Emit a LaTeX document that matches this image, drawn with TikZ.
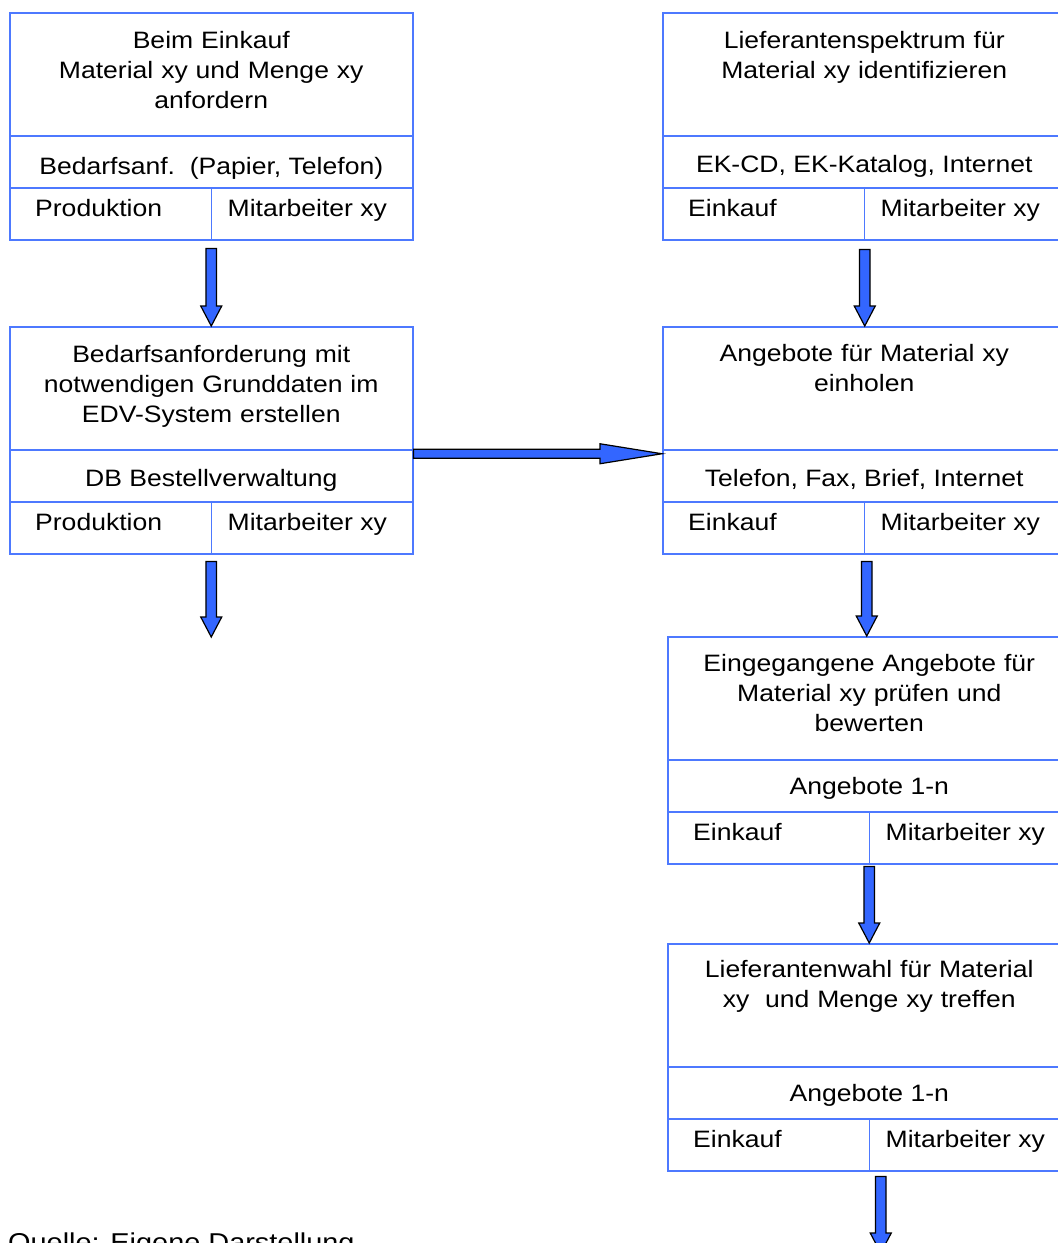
\documentclass[tikz,border=0pt]{standalone}
\usepackage{fontspec}
\setmainfont{Liberation Sans}[FakeStretch=1.12]
\usepackage{tikz}
\usetikzlibrary{calc}
\definecolor{boxLine}{RGB}{77,121,255}
\definecolor{arrFill}{RGB}{51,102,255}

\begin{document}
\begin{tikzpicture}[
  x=1pt, y=-1pt,
  font=\fontsize{23.7}{30}\selectfont,
  procbox/.style ={draw=boxLine, line width=1.5pt, minimum width=403pt, minimum height=227pt,
                   anchor=north west, inner sep=0pt},
  divline/.style ={draw=boxLine, line width=1.5pt},
  boxtitle/.style={anchor=base, text width=390pt, align=center, inner sep=0pt},
  restext/.style ={anchor=base, inner sep=0pt},
  orgtext/.style ={anchor=base west, inner sep=0pt},
  blockdown/.style ={fill=arrFill, draw=black, line width=1.2pt, line join=miter,
    to path={let \p1=(\tikztostart), \p2=(\tikztotarget) in
      (\x1-5.3pt,\y1) -- (\x1+5.3pt,\y1) -- (\x1+5.3pt,\y2+20pt) -- (\x1+10.5pt,\y2+20pt)
      -- (\x1,\y2) -- (\x1-10.5pt,\y2+20pt) -- (\x1-5.3pt,\y2+20pt) -- cycle}},
  blockright/.style={fill=arrFill, draw=black, line width=1.2pt, line join=miter,
    to path={let \p1=(\tikztostart), \p2=(\tikztotarget) in
      (\x1,\y1+4.5pt) -- (\x2-62pt,\y1+4.5pt) -- (\x2-62pt,\y1+10pt) -- (\x2,\y1)
      -- (\x2-62pt,\y1-10pt) -- (\x2-62pt,\y1-4.5pt) -- (\x1,\y1-4.5pt) -- cycle}},
]
\useasboundingbox (0,0) rectangle (1058,1243);
\clip (0,0) rectangle (1058,1243);

% ============ LEFT COLUMN ============
\node[procbox] (b1) at (9,12) {};
\draw[divline] ([yshift=-124pt]b1.north west) -- ([yshift=-124pt]b1.north east);
\draw[divline] ([yshift=-176pt]b1.north west) -- ([yshift=-176pt]b1.north east);
\draw[divline] ([yshift=-176pt]b1.north) -- (b1.south);
\node[boxtitle] (b1t) at ([yshift=-36pt]b1.north) {Beim Einkauf\\Material xy und Menge xy\\anfordern};
\node[restext]  (b1r) at ([yshift=-162pt]b1.north) {Bedarfsanf.\ \ (Papier, Telefon)};
\node[orgtext]  (b1o) at ([xshift=26pt,yshift=-204pt]b1.north west) {Produktion};
\node[orgtext]  (b1p) at ([xshift=218.5pt,yshift=-204pt]b1.north west) {Mitarbeiter xy};

\node[procbox] (b3) at (9,326) {};
\draw[divline] ([yshift=-124pt]b3.north west) -- ([yshift=-124pt]b3.north east);
\draw[divline] ([yshift=-176pt]b3.north west) -- ([yshift=-176pt]b3.north east);
\draw[divline] ([yshift=-176pt]b3.north) -- (b3.south);
\node[boxtitle] (b3t) at ([yshift=-36pt]b3.north) {Bedarfsanforderung mit\\notwendigen Grunddaten im\\EDV-System erstellen};
\node[restext]  (b3r) at ([yshift=-160pt]b3.north) {DB Bestellverwaltung};
\node[orgtext]  (b3o) at ([xshift=26pt,yshift=-204pt]b3.north west) {Produktion};
\node[orgtext]  (b3p) at ([xshift=218.5pt,yshift=-204pt]b3.north west) {Mitarbeiter xy};

% ============ RIGHT COLUMN ============
\node[procbox] (b2) at (662,12) {};
\draw[divline] ([yshift=-124pt]b2.north west) -- ([yshift=-124pt]b2.north east);
\draw[divline] ([yshift=-176pt]b2.north west) -- ([yshift=-176pt]b2.north east);
\draw[divline] ([yshift=-176pt]b2.north) -- (b2.south);
\node[boxtitle] (b2t) at ([yshift=-36pt]b2.north) {Lieferantenspektrum für\\Material xy identifizieren};
\node[restext]  (b2r) at ([yshift=-160pt]b2.north) {EK-CD, EK-Katalog, Internet};
\node[orgtext]  (b2o) at ([xshift=26pt,yshift=-204pt]b2.north west) {Einkauf};
\node[orgtext]  (b2p) at ([xshift=218.5pt,yshift=-204pt]b2.north west) {Mitarbeiter xy};

\node[procbox] (b4) at (662,326) {};
\draw[divline] ([yshift=-124pt]b4.north west) -- ([yshift=-124pt]b4.north east);
\draw[divline] ([yshift=-176pt]b4.north west) -- ([yshift=-176pt]b4.north east);
\draw[divline] ([yshift=-176pt]b4.north) -- (b4.south);
\node[boxtitle] (b4t) at ([yshift=-35pt]b4.north) {Angebote für Material xy\\einholen};
\node[restext]  (b4r) at ([yshift=-160pt]b4.north) {Telefon, Fax, Brief, Internet};
\node[orgtext]  (b4o) at ([xshift=26pt,yshift=-204pt]b4.north west) {Einkauf};
\node[orgtext]  (b4p) at ([xshift=218.5pt,yshift=-204pt]b4.north west) {Mitarbeiter xy};

\node[procbox] (b5) at (667,636) {};
\draw[divline] ([yshift=-124pt]b5.north west) -- ([yshift=-124pt]b5.north east);
\draw[divline] ([yshift=-176pt]b5.north west) -- ([yshift=-176pt]b5.north east);
\draw[divline] ([yshift=-176pt]b5.north) -- (b5.south);
\node[boxtitle] (b5t) at ([yshift=-35pt]b5.north) {Eingegangene Angebote für\\Material xy prüfen und\\bewerten};
\node[restext]  (b5r) at ([yshift=-158pt]b5.north) {Angebote 1-n};
\node[orgtext]  (b5o) at ([xshift=26pt,yshift=-204pt]b5.north west) {Einkauf};
\node[orgtext]  (b5p) at ([xshift=218.5pt,yshift=-204pt]b5.north west) {Mitarbeiter xy};

\node[procbox] (b6) at (667,943) {};
\draw[divline] ([yshift=-124pt]b6.north west) -- ([yshift=-124pt]b6.north east);
\draw[divline] ([yshift=-176pt]b6.north west) -- ([yshift=-176pt]b6.north east);
\draw[divline] ([yshift=-176pt]b6.north) -- (b6.south);
\node[boxtitle] (b6t) at ([yshift=-34pt]b6.north) {Lieferantenwahl für Material\\xy\ \ und Menge xy treffen};
\node[restext]  (b6r) at ([yshift=-158pt]b6.north) {Angebote 1-n};
\node[orgtext]  (b6o) at ([xshift=26pt,yshift=-204pt]b6.north west) {Einkauf};
\node[orgtext]  (b6p) at ([xshift=218.5pt,yshift=-204pt]b6.north west) {Mitarbeiter xy};

% ============ ARROWS ============
\coordinate (e3) at (210.5,637);
\coordinate (e6) at (880,1253);
\draw[blockdown] ([yshift=-8pt]b1.south) to (b3.north);
\draw[blockdown] ([xshift=0.5pt,yshift=-9pt]b2.south) to (b4.north);
\draw[blockdown] ([yshift=-7pt]b3.south) to (e3);
\draw[blockdown] ([xshift=2.5pt,yshift=-7pt]b4.south) to (b5.north);
\draw[blockdown] ([yshift=-2pt]b5.south) to (b6.north);
\draw[blockdown] ([xshift=11.5pt,yshift=-5pt]b6.south) to (e6);
\draw[blockright] ([yshift=-13.5pt]b3.east) to ([yshift=-13.5pt]b4.west);

% source note
\node[anchor=base west, inner sep=0pt, font=\fontsize{25.8}{30}\selectfont] (src) at (8,1251.5)
  {Quelle: Eigene Darstellung};

\end{tikzpicture}
\end{document}
